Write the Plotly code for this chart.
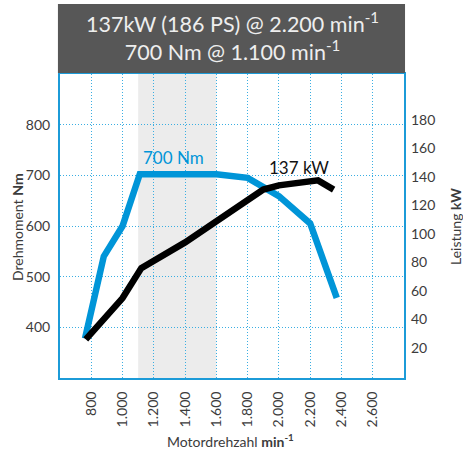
import plotly.graph_objects as go

# Data
rpm_torque = [760, 880, 1000, 1110, 1600, 1800, 2000, 2200, 2370]
torque_nm = [378, 540, 600, 702, 702, 695, 659, 605, 458]

rpm_power = [765, 1000, 1120, 1400, 1900, 2000, 2250, 2350]
power_kw = [26, 55, 76, 94, 131, 134, 137.5, 131]

x_ticks = [800, 1000, 1200, 1400, 1600, 1800, 2000, 2200, 2400, 2600]
x_ticktext = ["800", "1.000", "1.200", "1.400", "1.600", "1.800", "2.000", "2.200", "2.400", "2.600"]
y_ticks = [400, 500, 600, 700, 800]
y2_ticks = [20, 40, 60, 80, 100, 120, 140, 160, 180]

band = [1100, 1600]

FONT = "Lato"
BLUE = "#0095d8"
FRAME = "#1c9bd8"
GRID = "#3aaee2"
TXT = "#3c3c3c"

fig = go.Figure()

fig.add_trace(go.Scatter(x=rpm_torque, y=torque_nm, mode="lines",
                         line=dict(color=BLUE, width=6.5), yaxis="y", hoverinfo="skip"))
fig.add_trace(go.Scatter(x=rpm_power, y=power_kw, mode="lines",
                         line=dict(color="#000000", width=6.5), yaxis="y2", hoverinfo="skip"))

fig.add_shape(type="rect", xref="x", yref="paper", x0=band[0], x1=band[1], y0=0, y1=1,
              fillcolor="#ececec", line=dict(width=0), layer="below")

# title box
fig.add_shape(type="rect", xref="paper", yref="paper", x0=-0.006, x1=1.003, y0=1.003, y1=1.230,
              fillcolor="#575757", line=dict(width=0))

fig.add_annotation(xref="paper", yref="paper", x=0.5, y=(378 - 36) / 304, yanchor="middle",
                   showarrow=False, align="center",
                   text="137kW (186 PS) @ 2.200 min<sup>-1</sup><br>700 Nm @ 1.100 min<sup>-1</sup>",
                   font=dict(family=FONT, size=21.5, color="#eeeeee"))

fig.add_annotation(x=1325, y=735, xref="x", yref="y", showarrow=False, text="700 Nm",
                   font=dict(family=FONT, size=17, color=BLUE))
fig.add_annotation(x=2127, y=716, xref="x", yref="y", showarrow=False, text="137 kW",
                   font=dict(family=FONT, size=17, color="#111111"))

# axis titles
fig.add_annotation(xref="paper", yref="paper", x=(17 - 60) / 344, y=(378 - 227) / 304,
                   xanchor="center", yanchor="middle", showarrow=False, textangle=-90,
                   text="Drehmoment <b>Nm</b>", font=dict(family=FONT, size=14, color=TXT))
fig.add_annotation(xref="paper", yref="paper", x=(455 - 60) / 344, y=(378 - 227) / 304,
                   xanchor="center", yanchor="middle", showarrow=False, textangle=-90,
                   text="Leistung <b>kW</b>", font=dict(family=FONT, size=14, color=TXT))
fig.add_annotation(xref="paper", yref="paper", x=(230 - 60) / 344, y=(378 - 440) / 304,
                   xanchor="center", yanchor="middle", showarrow=False,
                   text="Motordrehzahl <b>min<sup>-1</sup></b>", font=dict(family=FONT, size=14, color=TXT))

fig.update_layout(
    width=463, height=450,
    margin=dict(l=60, r=59, t=74, b=72),
    paper_bgcolor="white", plot_bgcolor="white",
    showlegend=False,
    font=dict(family=FONT, size=14, color=TXT),
    xaxis=dict(range=[600, 2800], tickvals=x_ticks, ticktext=x_ticktext, tickangle=-90,
               showgrid=True, gridcolor=GRID, griddash="1px,2px", gridwidth=1,
               showline=True, mirror=True, linecolor=FRAME, linewidth=2,
               zeroline=False, ticks="", ticklabelstandoff=6,
               tickfont=dict(family=FONT, size=14, color=TXT)),
    yaxis=dict(range=[300, 900], tickvals=y_ticks,
               showgrid=True, gridcolor=GRID, griddash="1px,2px", gridwidth=1,
               showline=True, mirror=True, linecolor=FRAME, linewidth=2,
               zeroline=False, ticks="", ticklabelstandoff=5,
               tickfont=dict(family=FONT, size=14, color=TXT)),
    yaxis2=dict(range=[-1, 212], tickvals=y2_ticks, overlaying="y", side="right",
                showgrid=False, zeroline=False, ticks="", showline=False, ticklabelstandoff=6,
                tickfont=dict(family=FONT, size=14, color=TXT)),
)

fig.write_html("out.html", config={"displayModeBar": False},
               post_script="document.body.style.margin='0';document.body.style.padding='0';")
